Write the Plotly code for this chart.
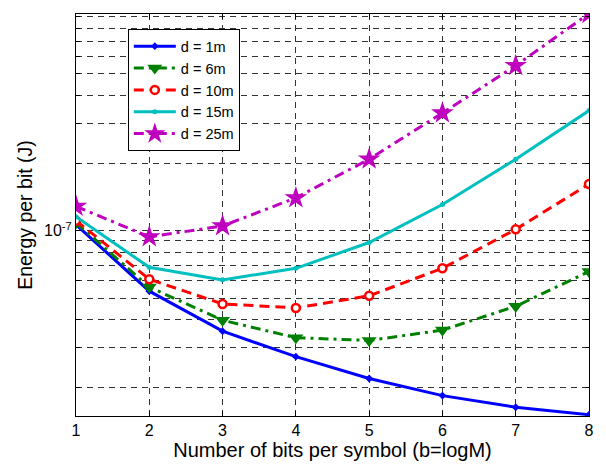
import plotly.graph_objects as go
import numpy as np

bits = [1, 2, 3, 4, 5, 6, 7, 8]
e_1m = [1.063e-7, 0.537e-7, 0.356e-7, 0.274e-7, 0.219e-7, 0.1837e-7, 0.163e-7, 0.151e-7]
e_6m = [1.085e-7, 0.560e-7, 0.3985e-7, 0.333e-7, 0.3236e-7, 0.360e-7, 0.4597e-7, 0.657e-7]
e_10m = [1.107e-7, 0.607e-7, 0.471e-7, 0.452e-7, 0.512e-7, 0.679e-7, 1.013e-7, 1.614e-7]
e_15m = [1.153e-7, 0.686e-7, 0.603e-7, 0.679e-7, 0.885e-7, 1.307e-7, 2.083e-7, 3.43e-7]
e_25m = [1.283e-7, 0.938e-7, 1.049e-7, 1.40e-7, 2.083e-7, 3.345e-7, 5.445e-7, 9.284e-7]

FONT = "Liberation Sans, Arial, sans-serif"

fig = go.Figure()
fig.add_trace(go.Scatter(x=bits, y=e_1m, name="d = 1m", mode="lines+markers",
                         line=dict(color="#0000FF", width=3),
                         marker=dict(symbol="diamond", size=6, color="#0000FF")))
fig.add_trace(go.Scatter(x=bits, y=e_6m, name="d = 6m", mode="lines+markers",
                         line=dict(color="#008000", width=3, dash="10px,5px,3px,5px"),
                         marker=dict(symbol="triangle-down", size=13, color="#008000")))
fig.add_trace(go.Scatter(x=bits, y=e_10m, name="d = 10m", mode="lines+markers",
                         line=dict(color="#FF0000", width=3, dash="10px,6px"),
                         marker=dict(symbol="circle", size=8, color="white",
                                     line=dict(color="#FF0000", width=2.5))))
fig.add_trace(go.Scatter(x=bits, y=e_15m, name="d = 15m", mode="lines+markers",
                         line=dict(color="#00BFBF", width=3),
                         marker=dict(symbol="circle", size=5, color="#00BFBF")))
fig.add_trace(go.Scatter(x=bits, y=e_25m, name="d = 25m", mode="lines+markers",
                         line=dict(color="#BF00BF", width=3, dash="10px,5px,3px,5px"),
                         marker=dict(symbol="star", size=17, color="#BF00BF")))

ytick_vals = [k * 1e-8 for k in range(2, 10)] + [1e-7] + [k * 1e-7 for k in range(2, 10)]
ytick_text = ["10<sup>-7</sup>" if abs(v - 1e-7) < 1e-12 else "" for v in ytick_vals]

fig.update_layout(
    width=606, height=468,
    margin=dict(l=76, r=16, t=14, b=49),
    paper_bgcolor="white", plot_bgcolor="white",
    font=dict(family=FONT, size=16, color="black"),
    showlegend=True,
    legend=dict(x=0.101, y=0.962, xanchor="left", yanchor="top",
                bgcolor="white", bordercolor="black", borderwidth=1,
                font=dict(family=FONT, size=14.5), itemwidth=42,
                tracegroupgap=0),
    xaxis=dict(range=[1, 8], tickmode="array", tickvals=bits,
               showgrid=True, gridcolor="#333333", gridwidth=1, griddash="6px,5px",
               showline=True, linecolor="black", linewidth=1, mirror="ticks",
               ticks="inside", ticklen=5, tickcolor="black",
               zeroline=False, tickfont=dict(size=16),
               title=dict(text="Number of bits per symbol (b=logM)",
                          font=dict(size=20), standoff=3)),
    yaxis=dict(type="log", range=[np.log10(1.49e-8), np.log10(9.25e-7)],
               tickmode="array", tickvals=ytick_vals, ticktext=ytick_text,
               showgrid=True, gridcolor="#333333", gridwidth=1, griddash="6px,5px",
               showline=True, linecolor="black", linewidth=1, mirror="ticks",
               ticks="inside", ticklen=4, tickcolor="black",
               zeroline=False, tickfont=dict(size=16),
               title=dict(text="Energy per bit (J)", font=dict(size=19.5), standoff=6)),
)

fig.write_html("out.html")
